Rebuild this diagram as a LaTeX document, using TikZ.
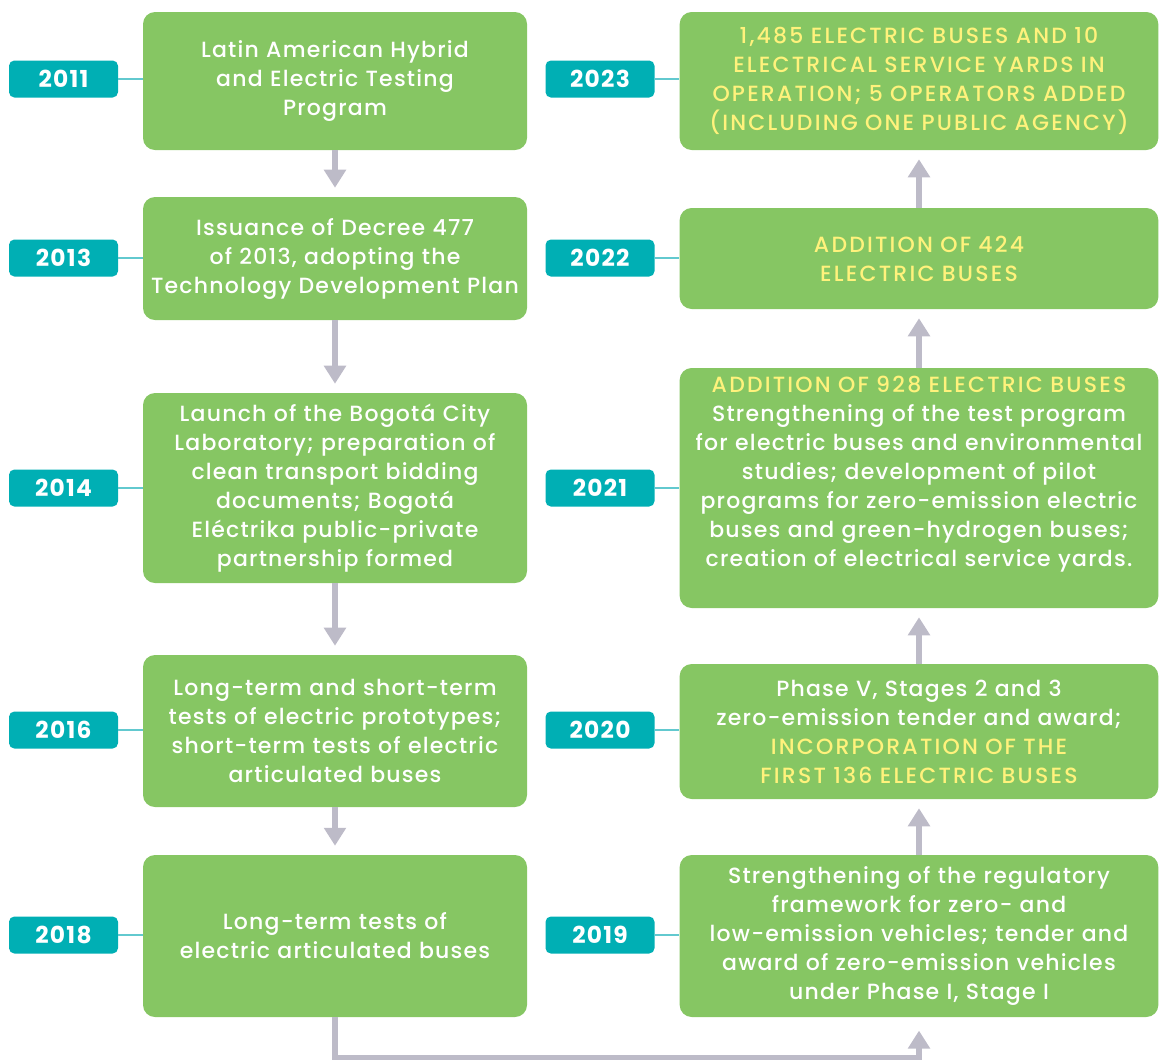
\documentclass[tikz,border=0pt]{standalone}
\usepackage{fontspec}
\setmainfont{Poppins}[UprightFont={* Medium}, BoldFont={* Bold}, LetterSpace=5.5]
\usepackage{tikz}
\usetikzlibrary{arrows.meta}

\definecolor{boxgreen}{HTML}{86C663}
\definecolor{tagteal}{HTML}{00AFB4}
\definecolor{linkteal}{HTML}{62C9CF}
\definecolor{flowgray}{HTML}{BDBBC8}
\definecolor{hiyellow}{HTML}{FFF27C}

\tikzset{
  event/.style={fill=boxgreen, rounded corners=9pt, text=white, align=center,
    inner xsep=2pt, font=\fontsize{16.5pt}{21.75pt}\selectfont},
  leftev/.style={event, minimum width=288pt, text width=284pt},
  rightev/.style={event, minimum width=359pt, text width=355pt},
  yeartag/.style={fill=tagteal, rounded corners=4pt, text=white, minimum width=81.75pt,
    minimum height=27.75pt, inner sep=0pt, font=\fontsize{17.5pt}{20pt}\selectfont\bfseries},
  taglink/.style={linkteal, line width=1.5pt},
  flow/.style={flowgray, line width=4pt, -{Triangle[width=16pt,length=13.5pt]}, shorten >=6.75pt}
}
\newcommand{\hi}[1]{{\addfontfeatures{LetterSpace=10}\textcolor{hiyellow}{#1}}}

\begin{document}
\begin{tikzpicture}[x=0.75pt,y=-0.75pt]
\useasboundingbox (0,0) rectangle (1159,1061);

% left column
\node [leftev, minimum height=103.5pt] (l1) at (335,81) {Latin American Hybrid\\and Electric Testing\\Program};
\node [leftev, minimum height=92.25pt] (l2) at (335,258.5) {Issuance of Decree 477\\of 2013, adopting the\\Technology Development Plan};
\node [leftev, minimum height=142.5pt] (l3) at (335,488) {Launch of the Bogotá City\\Laboratory; preparation of\\clean transport bidding\\documents; Bogotá\\Eléctrika public-private\\partnership formed};
\node [leftev, minimum height=114pt] (l4) at (335,731) {Long-term and short-term\\tests of electric prototypes;\\short-term tests of electric\\articulated buses};
\node [leftev, minimum height=121.5pt] (l5) at (335,936) {Long-term tests of\\electric articulated buses};

% right column
\node [rightev, minimum height=121.5pt] (r19) at (919,936) {Strengthening of the regulatory\\framework for zero- and\\low-emission vehicles; tender and\\award of zero-emission vehicles\\under Phase I, Stage I};
\node [rightev, minimum height=101.25pt] (r20) at (919,731.5) {Phase V, Stages 2 and 3\\zero-emission tender and award;\\\hi{INCORPORATION OF THE}\\\hi{FIRST 136 ELECTRIC BUSES}};
\node [rightev, minimum height=180pt] (r21) at (919,488) {\hi{ADDITION OF 928 ELECTRIC BUSES}\\Strengthening of the test program\\for electric buses and environmental\\studies; development of pilot\\programs for zero-emission electric\\buses and green-hydrogen buses;\\creation of electrical service yards.\par\vspace*{21pt}};
\node [rightev, minimum height=75.75pt] (r22) at (919,258.5) {\hi{ADDITION OF 424}\\\hi{ELECTRIC BUSES}};
\node [rightev, minimum height=103.5pt] (r23) at (919,81) {\hi{1,485 ELECTRIC BUSES AND 10}\\\hi{ELECTRICAL SERVICE YARDS IN}\\\hi{OPERATION; 5 OPERATORS ADDED}\\\hi{(INCLUDING ONE PUBLIC AGENCY)}};

% year tags
\node [yeartag] (t11) at (63.5,79) {2011};
\node [yeartag] (t13) at (63.5,258) {2013};
\node [yeartag] (t14) at (63.5,488) {2014};
\node [yeartag] (t16) at (63.5,730) {2016};
\node [yeartag] (t18) at (63.5,935) {2018};
\node [yeartag] (t23) at (600,79) {2023};
\node [yeartag] (t22) at (600,258) {2022};
\node [yeartag] (t21) at (600,488) {2021};
\node [yeartag] (t20) at (600,730) {2020};
\node [yeartag] (t19) at (600,935) {2019};

\draw [taglink] (t11.east) -- (t11.east -| l1.west);
\draw [taglink] (t13.east) -- (t13.east -| l2.west);
\draw [taglink] (t14.east) -- (t14.east -| l3.west);
\draw [taglink] (t16.east) -- (t16.east -| l4.west);
\draw [taglink] (t18.east) -- (t18.east -| l5.west);
\draw [taglink] (t23.east) -- (t23.east -| r23.west);
\draw [taglink] (t22.east) -- (t22.east -| r22.west);
\draw [taglink] (t21.east) -- (t21.east -| r21.west);
\draw [taglink] (t20.east) -- (t20.east -| r20.west);
\draw [taglink] (t19.east) -- (t19.east -| r19.west);

% flow arrows
\draw [flow] (l1) -- (l2);
\draw [flow] (l2) -- (l3);
\draw [flow] (l3) -- (l4);
\draw [flow] (l4) -- (l5);
\draw [flow, shorten >=10pt] (l5.south) -- ++(0,40) -| (r19.south);
\draw [flow] (r19) -- (r20);
\draw [flow] (r20) -- (r21);
\draw [flow] (r21) -- (r22);
\draw [flow] (r22) -- (r23);
\end{tikzpicture}
\end{document}
